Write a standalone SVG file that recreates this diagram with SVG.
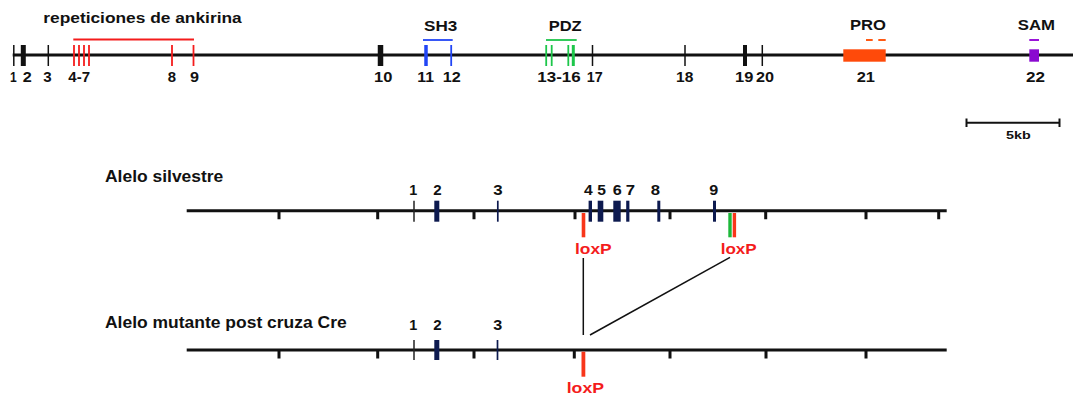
<svg xmlns="http://www.w3.org/2000/svg" width="1073" height="396" viewBox="0 0 1073 396">
<style>
text{font-family:"Liberation Sans",Arial,sans-serif;font-weight:bold;fill:#111}
.t14{font-size:15px}
.t16{font-size:16.5px}
.t13{font-size:14px}
.t11{font-size:11.5px}
.red{fill:#f41c1c}
.axis{stroke:#111;stroke-width:3;fill:none}
.thin{stroke:#111;stroke-width:1.5}
.tk{stroke:#111;stroke-width:3}
.r{stroke:#f41c1c;stroke-width:1.8}
.b{stroke:#2145f5;stroke-width:1.8}
.g{stroke:#1dc64a;stroke-width:1.8}
.nv{stroke:#0d1a4f}
.conn{stroke:#111;stroke-width:1.5;fill:none}
</style>
<rect width="1073" height="396" fill="#fff"/>

<g id="gene-map">
  <line class="axis" x1="12.7" y1="55" x2="1073" y2="55"/>
  <text class="t14" x="43.3" y="23" textLength="198.4" lengthAdjust="spacingAndGlyphs">repeticiones de ankirina</text>
  <line class="r" x1="73.3" y1="39.5" x2="194" y2="39.5"/>
  <g id="exon1"><line class="thin" x1="13.8" y1="45" x2="13.8" y2="66"/><text class="t14" x="10" y="82" textLength="6.7" lengthAdjust="spacingAndGlyphs">1</text></g>
  <g id="exon2"><line stroke="#111" stroke-width="5" x1="23.3" y1="45" x2="23.3" y2="66"/><text class="t14" x="22.7" y="82" textLength="9" lengthAdjust="spacingAndGlyphs">2</text></g>
  <g id="exon3"><line class="thin" x1="48.3" y1="45" x2="48.3" y2="66"/><text class="t14" x="43.3" y="82" textLength="8.4" lengthAdjust="spacingAndGlyphs">3</text></g>
  <g id="exon4-7">
    <line class="r" x1="74" y1="45" x2="74" y2="66"/><line class="r" x1="79" y1="45" x2="79" y2="66"/>
    <line class="r" x1="84" y1="45" x2="84" y2="66"/><line class="r" x1="89" y1="45" x2="89" y2="66"/>
    <text class="t14" x="68.3" y="82" textLength="21.7" lengthAdjust="spacingAndGlyphs">4-7</text></g>
  <g id="exon8"><line class="r" x1="172" y1="45" x2="172" y2="66"/><text class="t14" x="167.7" y="82" textLength="8.3" lengthAdjust="spacingAndGlyphs">8</text></g>
  <g id="exon9"><line class="r" x1="193.5" y1="45" x2="193.5" y2="66"/><text class="t14" x="190" y="82" textLength="9" lengthAdjust="spacingAndGlyphs">9</text></g>
  <g id="exon10"><line stroke="#111" stroke-width="5.5" x1="380.5" y1="45" x2="380.5" y2="66"/><text class="t14" x="374" y="82" textLength="18.3" lengthAdjust="spacingAndGlyphs">10</text></g>
  <g id="sh3">
    <text class="t14" x="424" y="30.7" textLength="33.3" lengthAdjust="spacingAndGlyphs">SH3</text>
    <line class="b" x1="423" y1="40" x2="452.7" y2="40"/>
    <line stroke="#2145f5" stroke-width="3.5" x1="426" y1="45" x2="426" y2="66"/>
    <line class="b" x1="451.2" y1="45" x2="451.2" y2="66"/>
    <text class="t14" x="417.3" y="82" textLength="16.7" lengthAdjust="spacingAndGlyphs">11</text>
    <text class="t14" x="442.7" y="82" textLength="18" lengthAdjust="spacingAndGlyphs">12</text>
  </g>
  <g id="pdz">
    <text class="t14" x="548.7" y="30.7" textLength="33" lengthAdjust="spacingAndGlyphs">PDZ</text>
    <line class="g" x1="546" y1="40" x2="576.7" y2="40"/>
    <line class="g" x1="546.2" y1="45" x2="546.2" y2="66"/>
    <line class="g" x1="551.7" y1="45" x2="551.7" y2="66"/>
    <line class="g" x1="568.3" y1="45" x2="568.3" y2="66"/>
    <line stroke="#1dc64a" stroke-width="3" x1="573.3" y1="45" x2="573.3" y2="66"/>
    <text class="t14" x="537.3" y="82" textLength="43.4" lengthAdjust="spacingAndGlyphs">13-16</text>
  </g>
  <g id="exon17"><line class="thin" x1="592.5" y1="45" x2="592.5" y2="66"/><text class="t14" x="586.7" y="82" textLength="16" lengthAdjust="spacingAndGlyphs">17</text></g>
  <g id="exon18"><line class="thin" x1="685" y1="45" x2="685" y2="66"/><text class="t14" x="676" y="82" textLength="17.3" lengthAdjust="spacingAndGlyphs">18</text></g>
  <g id="exon19"><line stroke="#111" stroke-width="4" x1="745" y1="45" x2="745" y2="66"/><text class="t14" x="735" y="82" textLength="18.3" lengthAdjust="spacingAndGlyphs">19</text></g>
  <g id="exon20"><line class="thin" x1="762.3" y1="45" x2="762.3" y2="66"/><text class="t14" x="756" y="82" textLength="18" lengthAdjust="spacingAndGlyphs">20</text></g>
  <g id="pro">
    <text class="t14" x="850" y="30" textLength="36" lengthAdjust="spacingAndGlyphs">PRO</text>
    <line stroke="#ff5a14" stroke-width="2" x1="866" y1="40" x2="872.7" y2="40"/>
    <line stroke="#ff5a14" stroke-width="2" x1="878.3" y1="40" x2="885.7" y2="40"/>
    <rect x="843.3" y="49.3" width="42.4" height="12.4" fill="#ff4a0a"/>
    <text class="t14" x="856.7" y="82" textLength="18.3" lengthAdjust="spacingAndGlyphs">21</text>
  </g>
  <g id="sam">
    <text class="t14" x="1017.7" y="30" textLength="37.3" lengthAdjust="spacingAndGlyphs">SAM</text>
    <line stroke="#9a14d8" stroke-width="2" x1="1029.3" y1="40" x2="1039" y2="40"/>
    <rect x="1029.3" y="49.3" width="9.7" height="12.4" fill="#8a0ad0"/>
    <text class="t14" x="1026" y="82" textLength="19" lengthAdjust="spacingAndGlyphs">22</text>
  </g>
</g>

<g id="scale-bar">
  <line stroke="#111" stroke-width="2" x1="966" y1="122.7" x2="1060" y2="122.7"/>
  <line stroke="#111" stroke-width="2" x1="966.5" y1="118.5" x2="966.5" y2="127"/>
  <line stroke="#111" stroke-width="2" x1="1059.5" y1="118.5" x2="1059.5" y2="127"/>
  <text class="t11" x="1006" y="139" textLength="24.7" lengthAdjust="spacingAndGlyphs">5kb</text>
</g>

<g id="wild-allele">
  <text class="t16" x="105" y="181.7" textLength="118.3" lengthAdjust="spacingAndGlyphs">Alelo silvestre</text>
  <line class="axis" x1="186.7" y1="210.7" x2="946.7" y2="210.7"/>
  <path class="tk" d="M279 210.7V219.3M377.7 210.7V219.3M474 210.7V219.3M575 210.7V219.3M670 210.7V219.3M765.7 210.7V219.3M866 210.7V219.3M938.7 210.7V219.3"/>
  <line stroke="#222" stroke-width="1.5" x1="414" y1="200.7" x2="414" y2="221.7"/>
  <rect x="434.3" y="200.7" width="5" height="21" fill="#0d1a4f"/>
  <line class="nv" stroke-width="1.7" x1="497.8" y1="200.7" x2="497.8" y2="221.7"/>
  <rect x="588.6" y="200.7" width="3.4" height="21" fill="#0d1a4f"/>
  <rect x="597.7" y="200.7" width="5.6" height="21" fill="#0d1a4f"/>
  <rect x="613.3" y="200.7" width="7.4" height="21" fill="#0d1a4f"/>
  <rect x="626.2" y="200.7" width="3.2" height="21" fill="#0d1a4f"/>
  <rect x="657.3" y="200.7" width="3" height="21" fill="#0d1a4f"/>
  <rect x="713" y="200.7" width="3" height="21" fill="#0d1a4f"/>
  <text class="t13" x="409.3" y="195" textLength="8" lengthAdjust="spacingAndGlyphs">1</text>
  <text class="t13" x="433.3" y="195" textLength="8.4" lengthAdjust="spacingAndGlyphs">2</text>
  <text class="t13" x="493.3" y="195" textLength="9.4" lengthAdjust="spacingAndGlyphs">3</text>
  <text class="t13" x="584" y="195" textLength="8.7" lengthAdjust="spacingAndGlyphs">4</text>
  <text class="t13" x="597.3" y="195" textLength="8.7" lengthAdjust="spacingAndGlyphs">5</text>
  <text class="t13" x="612.7" y="195" textLength="9" lengthAdjust="spacingAndGlyphs">6</text>
  <text class="t13" x="625.7" y="195" textLength="9.3" lengthAdjust="spacingAndGlyphs">7</text>
  <text class="t13" x="650.7" y="195" textLength="9.3" lengthAdjust="spacingAndGlyphs">8</text>
  <text class="t13" x="709.3" y="195" textLength="9" lengthAdjust="spacingAndGlyphs">9</text>
  <g id="loxP-1">
    <rect x="581.7" y="213" width="3.6" height="24.3" fill="#f8361a"/>
    <text class="t14 red" x="575" y="254" textLength="36.7" lengthAdjust="spacingAndGlyphs">loxP</text>
  </g>
  <g id="loxP-2">
    <rect x="728.3" y="213" width="3.4" height="24.3" fill="#1db83a"/>
    <rect x="732.7" y="213" width="3.4" height="24.3" fill="#f8361a"/>
    <text class="t14 red" x="720.7" y="254" textLength="36" lengthAdjust="spacingAndGlyphs">loxP</text>
  </g>
</g>

<g id="connectors">
  <line class="conn" x1="583.3" y1="258" x2="583.3" y2="335"/>
  <line class="conn" x1="590" y1="335" x2="730" y2="257.3"/>
</g>

<g id="mutant-allele">
  <text class="t16" x="105" y="328.3" textLength="241.7" lengthAdjust="spacingAndGlyphs">Alelo mutante post cruza Cre</text>
  <line class="axis" x1="186.7" y1="350" x2="946.7" y2="350"/>
  <path class="tk" d="M279 350V358.5M377.7 350V358.5M474 350V358.5M574.3 350V358.5M670 350V358.5M766 350V358.5M866 350V358.5"/>
  <line stroke="#222" stroke-width="1.5" x1="414" y1="340" x2="414" y2="360"/>
  <rect x="434.3" y="340" width="5" height="20" fill="#0d1a4f"/>
  <line class="nv" stroke-width="1.7" x1="497.5" y1="340" x2="497.5" y2="360"/>
  <text class="t13" x="409.3" y="330" textLength="8" lengthAdjust="spacingAndGlyphs">1</text>
  <text class="t13" x="433.3" y="330" textLength="8.4" lengthAdjust="spacingAndGlyphs">2</text>
  <text class="t13" x="493.3" y="330" textLength="9" lengthAdjust="spacingAndGlyphs">3</text>
  <g id="loxP-3">
    <rect x="581.5" y="351.7" width="3.8" height="25" fill="#f8361a"/>
    <text class="t14 red" x="566.7" y="393.3" textLength="37.3" lengthAdjust="spacingAndGlyphs">loxP</text>
  </g>
</g>
</svg>
